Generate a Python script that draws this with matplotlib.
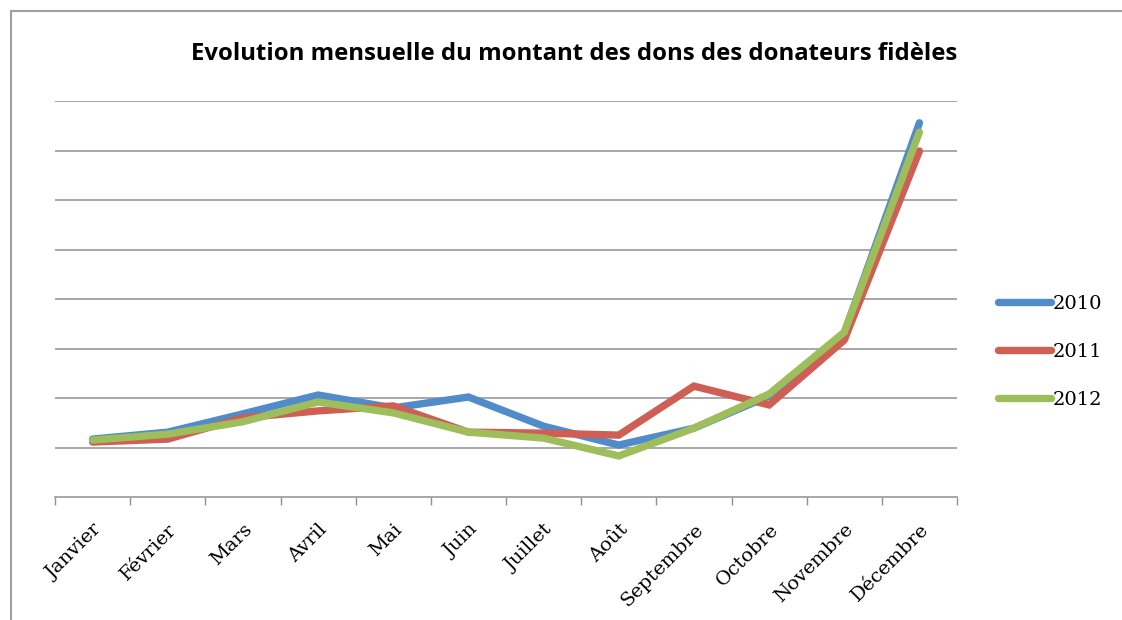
import numpy as np
import matplotlib
matplotlib.use("Agg")
import matplotlib.pyplot as plt
from matplotlib.lines import Line2D

mois = ["Janvier", "Février", "Mars", "Avril", "Mai", "Juin", "Juillet",
        "Août", "Septembre", "Octobre", "Novembre", "Décembre"]

dons_2010 = [1.17, 1.31, 1.68, 2.06, 1.80, 2.02, 1.43, 1.05, 1.39, 2.04, 3.31, 7.56]
dons_2011 = [1.11, 1.17, 1.60, 1.74, 1.84, 1.31, 1.29, 1.25, 2.24, 1.86, 3.17, 6.99]
dons_2012 = [1.15, 1.27, 1.52, 1.92, 1.70, 1.31, 1.19, 0.83, 1.39, 2.08, 3.33, 7.37]

series = {"2010": dons_2010, "2011": dons_2011, "2012": dons_2012}
couleurs = {"2010": "#4F8CC9", "2011": "#CF5E55", "2012": "#9DBE5B"}

fig = plt.figure(figsize=(11.22, 6.2), dpi=100)
ax = fig.add_axes([55 / 1122, 1 - 497 / 620, (957 - 55) / 1122, (497 - 101) / 620])

x = np.arange(len(mois))
for annee, vals in series.items():
    ax.plot(x, vals, color=couleurs[annee], lw=5.3, solid_capstyle="round",
            solid_joinstyle="miter", label=annee)

ax.set_xlim(-0.5, len(mois) - 0.5)
ax.set_ylim(0, 8)
ax.set_yticks(np.arange(1, 9))
ax.yaxis.grid(True, color="#A0A0A0", lw=1.3)
ax.set_axisbelow(True)
ax.tick_params(axis="y", left=False, labelleft=False)

ax.set_xticks(x)
ax.set_xticklabels(mois, rotation=45, ha="right", va="top", rotation_mode="anchor",
                   fontfamily="DejaVu Serif", fontsize=14)
ax.set_xticks(np.arange(-0.5, len(mois)), minor=True)
ax.tick_params(axis="x", which="major", length=0, pad=17)
ax.tick_params(axis="x", which="minor", length=6, color="#909090", width=1)

for s in ["top", "right", "left"]:
    ax.spines[s].set_visible(False)
ax.spines["bottom"].set_color("#A0A0A0")
ax.spines["bottom"].set_linewidth(1.3)

fig.text(574 / 1122, 1 - 54 / 620, "Evolution mensuelle du montant des dons des donateurs fidèles",
         ha="center", va="center", fontfamily="Open Sans", fontweight="bold", fontsize=17.2)

fig.legend(loc="center left", bbox_to_anchor=(988 / 1122, 1 - 352 / 620), frameon=False,
           handlelength=2.75, handletextpad=0.1, labelspacing=1.53, borderpad=0,
           prop={"family": "DejaVu Serif", "size": 14})

# cadre du graphique (bord gauche et haut)
fig.add_artist(Line2D([11 / 1122, 11 / 1122], [0, 1 - 11 / 620], transform=fig.transFigure,
                      color="#A0A0A0", lw=1.5))
fig.add_artist(Line2D([11 / 1122, 1], [1 - 11 / 620, 1 - 11 / 620], transform=fig.transFigure,
                      color="#A0A0A0", lw=1.5))

fig.savefig("out.png", dpi=100)
